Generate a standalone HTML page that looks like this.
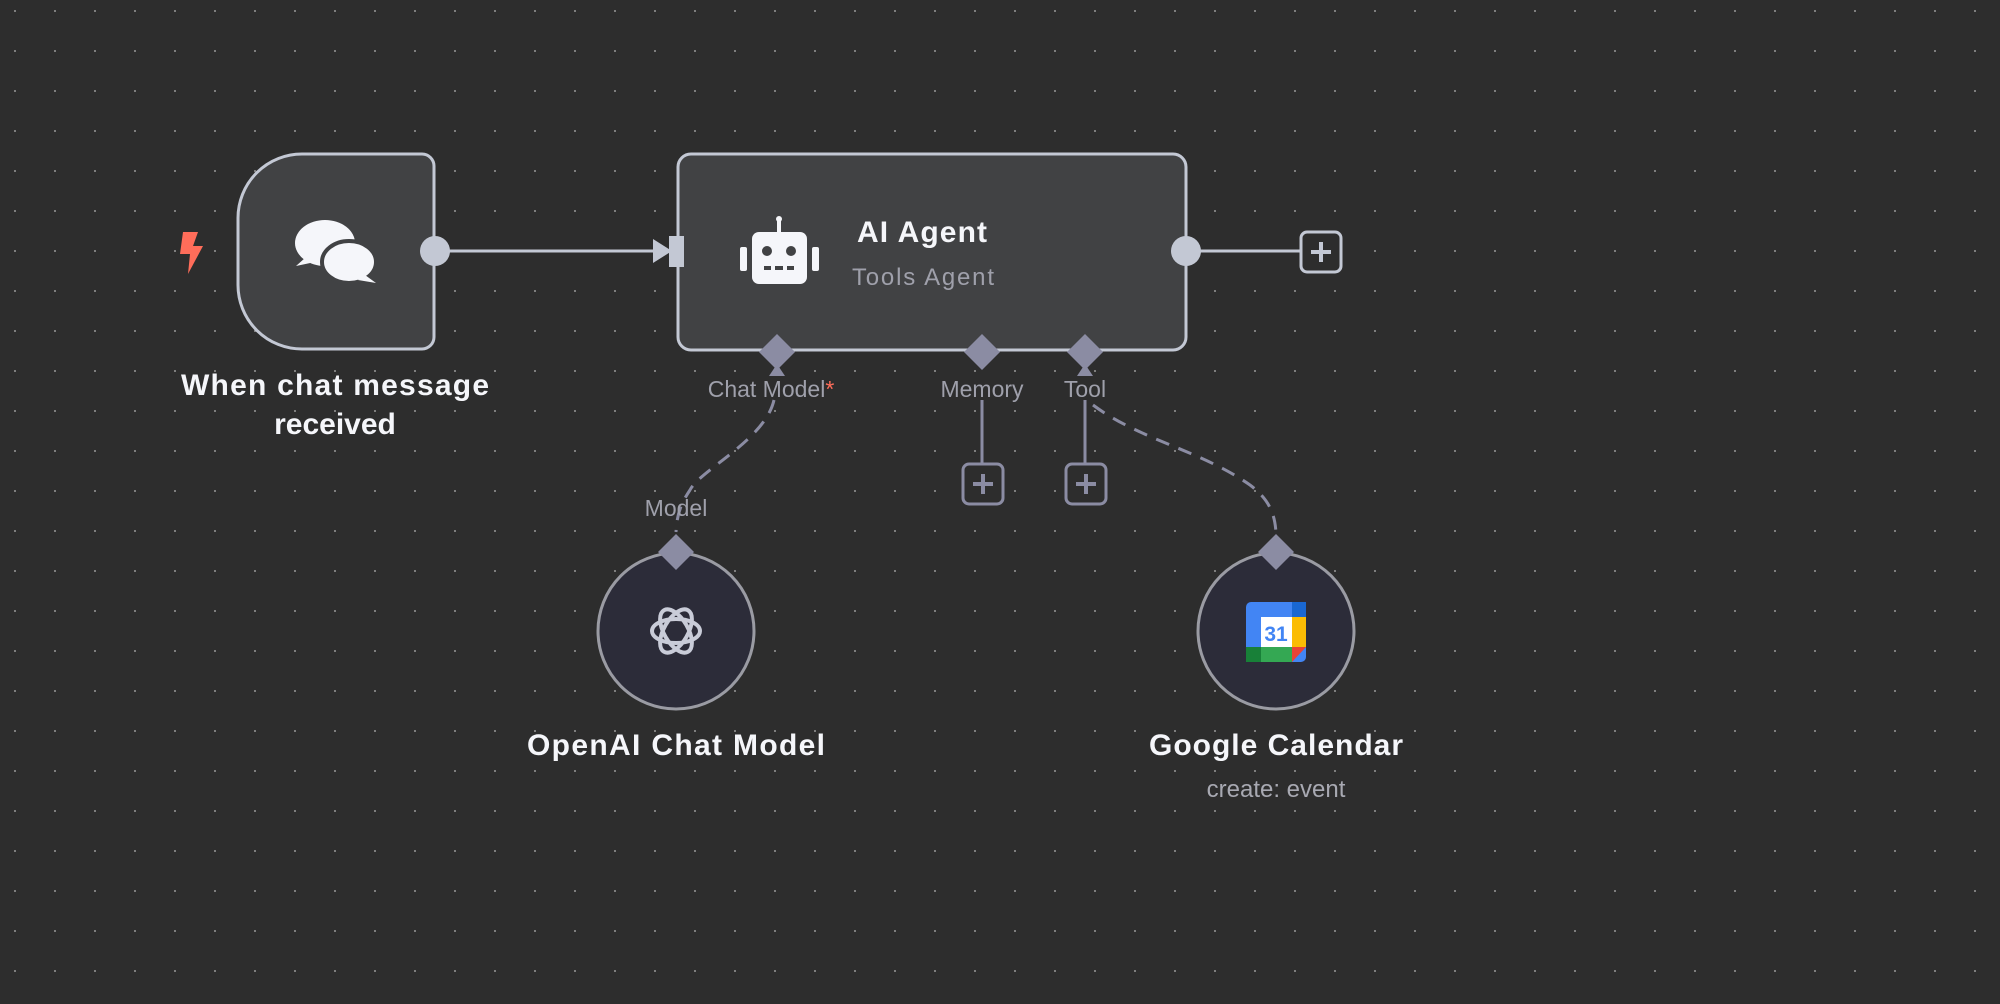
<!DOCTYPE html>
<html><head><meta charset="utf-8"><style>
html,body{margin:0;padding:0;background:#2d2d2d;}
svg{display:block}
text{font-family:"Liberation Sans","DejaVu Sans",sans-serif}
</style></head><body>
<svg width="2000" height="1004" viewBox="0 0 2000 1004" xmlns="http://www.w3.org/2000/svg">
<defs>
<pattern id="dots" x="0" y="0" width="40" height="40" patternUnits="userSpaceOnUse">
<rect x="14" y="10" width="2" height="2" fill="#7e7e7e"/>
</pattern>
</defs>
<rect width="2000" height="1004" fill="#2d2d2d"/>
<rect width="2000" height="1004" fill="url(#dots)"/>

<line x1="435" y1="251" x2="660" y2="251" stroke="#c3c8d4" stroke-width="3"/>
<polygon points="653,239 672,251 653,263" fill="#c3c8d4"/>
<line x1="1186" y1="251" x2="1300" y2="251" stroke="#c3c8d4" stroke-width="3"/>

<path d="M302,154 H422 a12,12 0 0 1 12,12 V337 a12,12 0 0 1 -12,12 H302 a64,64 0 0 1 -64,-64 V218 a64,64 0 0 1 64,-64 Z" fill="#414244" stroke="#c3c8d4" stroke-width="3"/>
<circle cx="435" cy="251" r="15" fill="#c3c8d4"/>
<g fill="#f5f6fa">
<ellipse cx="325" cy="243" rx="30" ry="23"/>
<polygon points="305,258 296,266 315,262"/>
<ellipse cx="349" cy="262" rx="27" ry="21" stroke="#414244" stroke-width="4"/>
<polygon points="365,275 376,283 358,280"/>
</g>
<polygon points="183,232 198,232 193,246 203,246 188,274 190,254 180,254" fill="#ff6d5a"/>
<text x="335" y="395" font-size="30" font-weight="bold" fill="#f5f6fa" text-anchor="middle" textLength="308">When chat message</text>
<text x="335" y="434" font-size="30" font-weight="bold" fill="#f5f6fa" text-anchor="middle">received</text>

<rect x="678" y="154" width="508" height="196" rx="13" fill="#414244" stroke="#c3c8d4" stroke-width="3"/>
<rect x="669" y="236" width="15" height="31" fill="#c3c8d4"/>
<circle cx="1186" cy="251" r="15" fill="#c3c8d4"/>
<g fill="#f5f6fa">
<rect x="752" y="232" width="55" height="52" rx="7"/>
<rect x="777" y="219" width="4" height="14"/>
<circle cx="779" cy="219" r="3"/>
<rect x="740" y="247" width="7" height="24" rx="2"/>
<rect x="812" y="247" width="7" height="24" rx="2"/>
</g>
<g fill="#414244">
<circle cx="767" cy="251" r="5"/><circle cx="791" cy="251" r="5"/>
<rect x="764" y="266" width="7" height="4"/><rect x="775" y="266" width="8" height="4"/><rect x="787" y="266" width="7" height="4"/>
</g>
<text x="857" y="242" font-size="30" font-weight="bold" fill="#f5f6fa" textLength="130">AI Agent</text>
<text x="852" y="285" font-size="24" fill="#9fa0ab" textLength="142">Tools Agent</text>

<rect x="1301" y="232" width="40" height="40" rx="6" fill="#2d2d2d" stroke="#c3c8d4" stroke-width="3"/>
<path d="M1321,242 V262 M1311,252 H1331" stroke="#c3c8d4" stroke-width="4"/>

<line x1="982" y1="400" x2="982" y2="464" stroke="#8b8ca3" stroke-width="3"/>
<line x1="1085" y1="400" x2="1085" y2="464" stroke="#8b8ca3" stroke-width="3"/>
<rect x="963" y="464" width="40" height="40" rx="6" fill="#2d2d2d" stroke="#8b8ca3" stroke-width="3"/>
<path d="M983,474 V494 M973,484 H993" stroke="#8b8ca3" stroke-width="4"/>
<rect x="1066" y="464" width="40" height="40" rx="6" fill="#2d2d2d" stroke="#8b8ca3" stroke-width="3"/>
<path d="M1086,474 V494 M1076,484 H1096" stroke="#8b8ca3" stroke-width="4"/>

<path d="M774,400 C765,440 700,470 690,490 C680,505 677,515 676,532" fill="none" stroke="#8b8ca3" stroke-width="3" stroke-dasharray="14,10"/>
<path d="M1093,405 C1140,440 1200,450 1250,485 C1270,500 1275,515 1276,533" fill="none" stroke="#8b8ca3" stroke-width="3" stroke-dasharray="14,10"/>

<g fill="#8b8ca3">
<polygon points="777,334 795,352 777,370 759,352"/>
<polygon points="982,334 1000,352 982,370 964,352"/>
<polygon points="1085,334 1103,352 1085,370 1067,352"/>
<polygon points="777,364 785,376 769,376"/>
<polygon points="1085,364 1093,376 1077,376"/>
</g>
<text x="771" y="397" font-size="23" fill="#9fa0ab" text-anchor="middle">Chat Model<tspan fill="#ff6d5a">*</tspan></text>
<text x="982" y="397" font-size="23" fill="#9fa0ab" text-anchor="middle">Memory</text>
<text x="1085" y="397" font-size="23" fill="#9fa0ab" text-anchor="middle">Tool</text>
<text x="676" y="516" font-size="23" fill="#9fa0ab" text-anchor="middle">Model</text>

<circle cx="676" cy="631" r="78" fill="#2c2c39" stroke="#9a9ba3" stroke-width="3"/>
<polygon points="676,534 694,552 676,570 658,552" fill="#8b8ca3"/>
<g fill="none" stroke="#c9ccd8" stroke-width="4">
<ellipse cx="676" cy="631" rx="24" ry="12"/>
<ellipse cx="676" cy="631" rx="24" ry="12" transform="rotate(60 676 631)"/>
<ellipse cx="676" cy="631" rx="24" ry="12" transform="rotate(120 676 631)"/>
</g>
<text x="676" y="755" font-size="30" font-weight="bold" fill="#f5f6fa" text-anchor="middle" textLength="298">OpenAI Chat Model</text>

<circle cx="1276" cy="631" r="78" fill="#2c2c39" stroke="#9a9ba3" stroke-width="3"/>
<polygon points="1276,534 1294,552 1276,570 1258,552" fill="#8b8ca3"/>
<rect x="1246" y="602" width="60" height="60" rx="5" fill="#4285f4"/>
<rect x="1246" y="647" width="15" height="15" fill="#188038"/>
<rect x="1261" y="647" width="31" height="15" fill="#34a853"/>
<rect x="1292" y="617" width="14" height="30" fill="#fbbc04"/>
<rect x="1292" y="602" width="14" height="15" fill="#1967d2"/>
<polygon points="1292,647 1306,647 1292,662" fill="#ea4335"/>
<rect x="1261" y="617" width="31" height="30" fill="#ffffff"/>
<text x="1276" y="641" font-size="21" font-weight="bold" fill="#4285f4" text-anchor="middle">31</text>
<text x="1276" y="755" font-size="30" font-weight="bold" fill="#f5f6fa" text-anchor="middle" textLength="254">Google Calendar</text>
<text x="1276" y="797" font-size="24" fill="#a8a9b2" text-anchor="middle">create: event</text>
</svg>
</body></html>
